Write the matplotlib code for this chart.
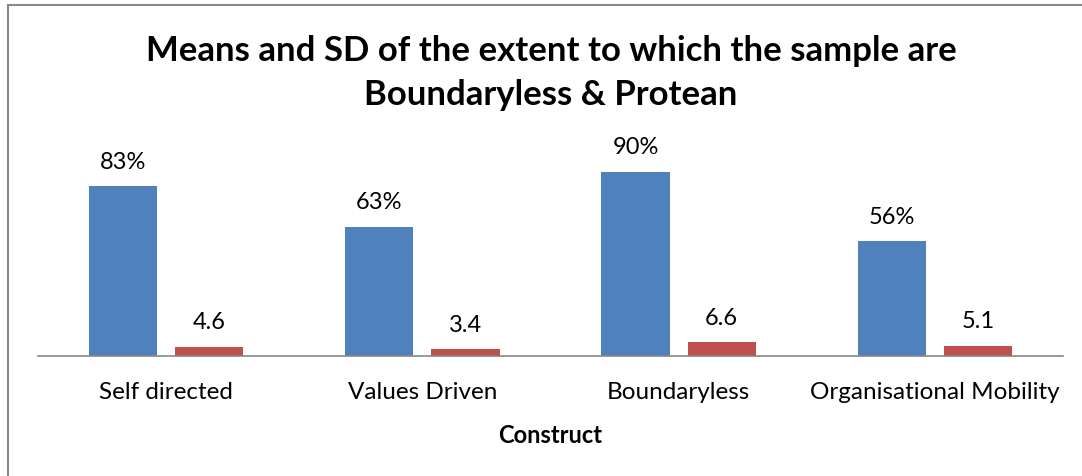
import matplotlib
matplotlib.use('Agg')
import matplotlib.pyplot as plt
import numpy as np

# data
constructs = ['Self directed', 'Values Driven', 'Boundaryless', 'Organisational Mobility']
means_pct = [83, 63, 90, 56]
sd_values = [4.6, 3.4, 6.6, 5.1]

BLUE = '#4F81BD'
RED = '#C0504D'
FONT = ['Lato', 'DejaVu Sans']

plt.rcParams['font.family'] = FONT

fig = plt.figure(figsize=(10.82, 4.77), dpi=100)
W, H = 1082, 477

# outer chart frame (left and top edges visible)
fig.add_artist(plt.Line2D([8 / W, 8 / W], [0, 1 - 6 / H], color='#888888', lw=1.5))
fig.add_artist(plt.Line2D([8 / W, 1], [1 - 6 / H, 1 - 6 / H], color='#888888', lw=1.5))

ax = fig.add_axes([38 / W, 1 - 357 / H, (1063 - 38) / W, (357 - 150) / H])
x = np.arange(len(constructs))
w = 0.266
off = 0.168
b1 = ax.bar(x - off, means_pct, width=w, color=BLUE)
b2 = ax.bar(x + off, sd_values, width=w, color=RED)

for rect, v in zip(b1, means_pct):
    ax.annotate(f'{v}%', (rect.get_x() + rect.get_width() / 2, v),
                xytext=(0, 18), textcoords='offset points',
                ha='center', va='center', fontsize=17)
for rect, v in zip(b2, sd_values):
    ax.annotate(f'{v}', (rect.get_x() + rect.get_width() / 2, v),
                xytext=(0, 18), textcoords='offset points',
                ha='center', va='center', fontsize=17)

ax.set_xlim(-0.5, 3.5)
ax.set_ylim(0, (357 - 150) / 2.048)
for s in ['top', 'right', 'left']:
    ax.spines[s].set_visible(False)
ax.spines['bottom'].set_color('#868686')
ax.spines['bottom'].set_linewidth(1.2)
ax.set_yticks([])
ax.set_xticks(x)
ax.set_xticklabels(constructs, fontsize=17.5)
ax.tick_params(axis='x', length=0, pad=18)
ax.set_xlabel('Construct', fontsize=17, fontweight='bold', labelpad=15)

fig.text(551 / W, 1 - 73 / H,
         'Means and SD of the extent to which the sample are\nBoundaryless & Protean',
         ha='center', va='center', fontsize=25, fontweight='bold', linespacing=1.45)

fig.savefig('out.png', dpi=100, facecolor='white')
